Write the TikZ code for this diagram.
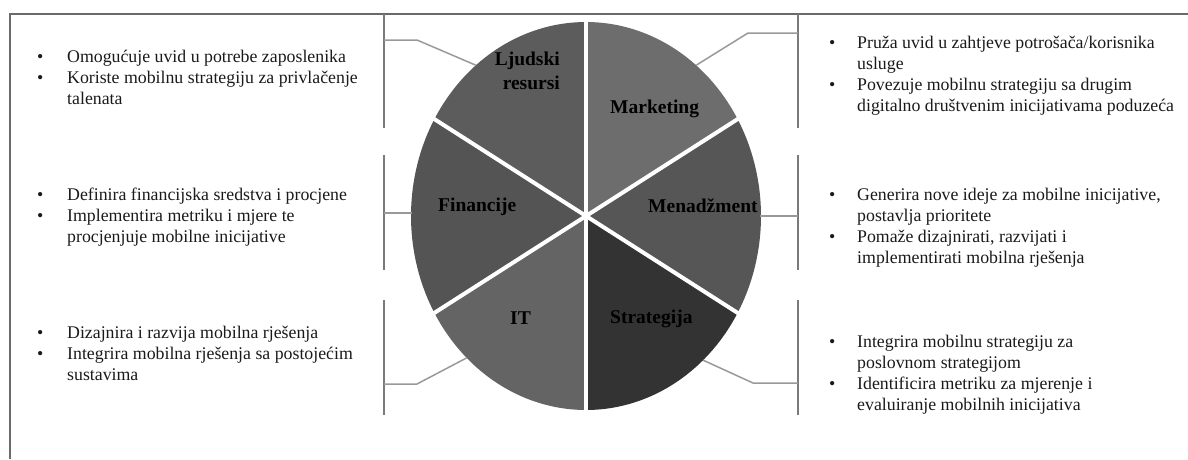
\documentclass[tikz,border=0pt]{standalone}
\usepackage{fontspec}
\setmainfont{Liberation Serif}
\definecolor{cHR}{HTML}{5C5C5C}
\definecolor{cMark}{HTML}{6D6D6D}
\definecolor{cFin}{HTML}{545454}
\definecolor{cMen}{HTML}{565656}
\definecolor{cIT}{HTML}{646464}
\definecolor{cStr}{HTML}{333333}
\definecolor{frameGray}{HTML}{6A6A6A}
\definecolor{barGray}{HTML}{7A7A7A}
\definecolor{connGray}{HTML}{999999}
\definecolor{txtCol}{HTML}{1A1A1A}
\begin{document}
\begin{tikzpicture}[x=1pt,y=-1pt,
  frameline/.style={draw=frameGray,line width=2pt},
  bar/.style={draw=barGray,line width=2.8pt},
  conn/.style={draw=connGray,line width=1.5pt},
  lbl/.style={font=\fontsize{19.5}{24}\selectfont\bfseries,inner sep=0pt,text=black},
  txt/.style={font=\fontsize{17.8}{21}\selectfont,inner sep=0pt,anchor=base west,text=txtCol}]
\useasboundingbox (0,0) rectangle (1188,459);
\draw[frameline] (10,459) -- (10,14) -- (1188,14);
% pie
\coordinate (c) at (586,216);
\foreach \a/\b/\col in {30/90/cMark, 90/150/cHR, 150/210/cFin, 210/270/cIT, 270/330/cStr, -30/30/cMen}
  \fill[\col] (c) -- plot[domain=\a:\b, samples=50] ({586+175*cos(\x)},{216-194*sin(\x)}) -- cycle;
\foreach \a in {30,90,...,330}
  \draw[white,line width=4pt] (c) -- ({586+178*cos(\a)},{216-197*sin(\a)});
% labels
\node[lbl,anchor=base east,align=right] (lHR) at (560,89) {Ljudski\\resursi};
\node[lbl,anchor=base west] (lMark) at (610,113) {Marketing};
\node[lbl,anchor=base west] (lFin) at (438,211) {Financije};
\node[lbl,anchor=base west] (lMen) at (648,212) {Menadžment};
\node[lbl,anchor=base west] (lIT) at (510,324) {IT};
\node[lbl,anchor=base west] (lStr) at (610,323) {Strategija};
% bars
\draw[bar] (384,14) -- (384,128);
\draw[bar] (384,155) -- (384,270);
\draw[bar] (384,300) -- (384,415);
\draw[bar] (798,14) -- (798,128);
\draw[bar] (798,155) -- (798,270);
\draw[bar] (798,300) -- (798,415);
% connectors
\coordinate (pHR) at ({586+175*cos(129)},{216-194*sin(129)});
\coordinate (kHR) at (417,40);
\coordinate (bHR) at (384,40);
\draw[conn] (pHR) -- (kHR) -- (bHR);
\coordinate (pMark) at ({586+175*cos(51)},{216-194*sin(51)});
\coordinate (kMark) at (748,33);
\coordinate (bMark) at (798,33);
\draw[conn] (pMark) -- (kMark) -- (bMark);
\coordinate (pFin) at (412,213);
\coordinate (bFin) at (384,213);
\draw[conn] (pFin) -- (bFin);
\coordinate (pMen) at (760,216);
\coordinate (bMen) at (798,216);
\draw[conn] (pMen) -- (bMen);
\coordinate (pIT) at ({586+175*cos(227)},{216-194*sin(227)});
\coordinate (kIT) at (417,384);
\coordinate (bIT) at (384,384);
\draw[conn] (pIT) -- (kIT) -- (bIT);
\coordinate (pStr) at ({586+175*cos(312)},{216-194*sin(312)});
\coordinate (kStr) at (753,383);
\coordinate (bStr) at (798,383);
\draw[conn] (pStr) -- (kStr) -- (bStr);
% texts
\node[txt] (tHR) at (37,62) {\begin{tabular}[t]{@{}p{30pt}@{}l@{}}•&Omogućuje uvid u potrebe zaposlenika\\ •&Koriste mobilnu strategiju za privlačenje\\ &talenata\end{tabular}};
\node[txt] (tFin) at (37,200) {\begin{tabular}[t]{@{}p{30pt}@{}l@{}}•&Definira financijska sredstva i procjene\\ •&Implementira metriku i mjere te\\ &procjenjuje mobilne inicijative\end{tabular}};
\node[txt] (tIT) at (37,338) {\begin{tabular}[t]{@{}p{30pt}@{}l@{}}•&Dizajnira i razvija mobilna rješenja\\ •&Integrira mobilna rješenja sa postojećim\\ &sustavima\end{tabular}};
\node[txt] (tMark) at (829,48) {\begin{tabular}[t]{@{}p{28pt}@{}l@{}}•&Pruža uvid u zahtjeve potrošača/korisnika\\ &usluge\\ •&Povezuje mobilnu strategiju sa drugim\\ &digitalno društvenim inicijativama poduzeća\end{tabular}};
\node[txt] (tMen) at (829,200) {\begin{tabular}[t]{@{}p{28pt}@{}l@{}}•&Generira nove ideje za mobilne inicijative,\\ &postavlja prioritete\\ •&Pomaže dizajnirati, razvijati i\\ &implementirati mobilna rješenja\end{tabular}};
\node[txt] (tStr) at (829,347) {\begin{tabular}[t]{@{}p{28pt}@{}l@{}}•&Integrira mobilnu strategiju za\\ &poslovnom strategijom\\ •&Identificira metriku za mjerenje i\\ &evaluiranje mobilnih inicijativa\end{tabular}};
\end{tikzpicture}
\end{document}
